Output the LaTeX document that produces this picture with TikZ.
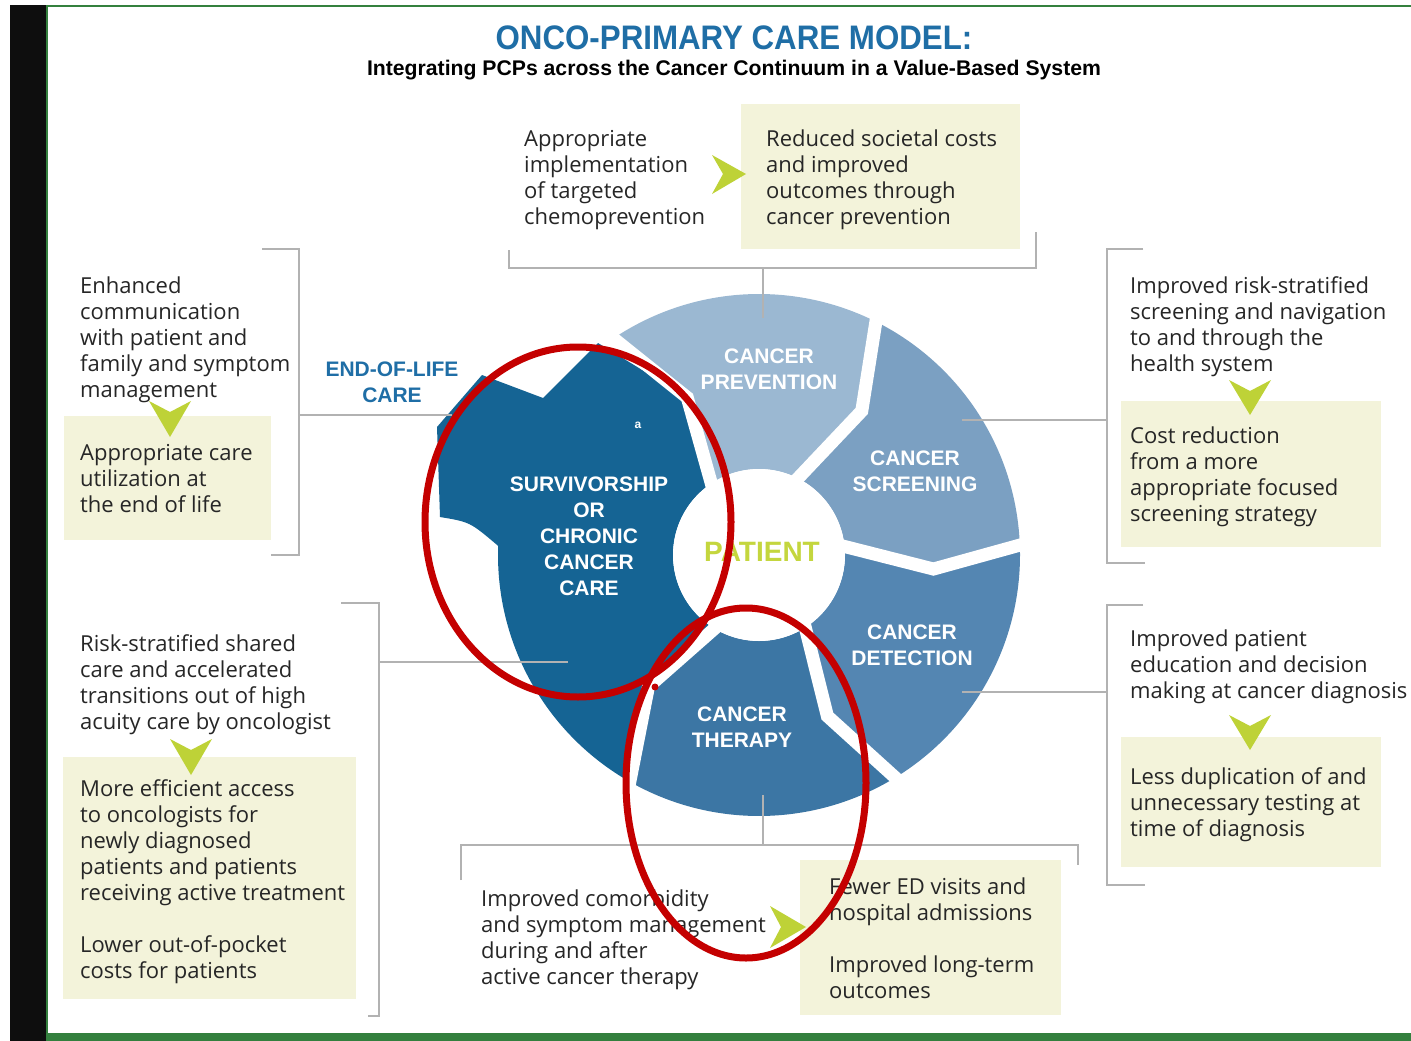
\documentclass[tikz,border=0pt]{standalone}
\usepackage{fontspec}
\usepackage{graphicx}
\setmainfont{Open Sans}
\newfontfamily\headfont{Liberation Sans}
\usetikzlibrary{calc}

\definecolor{titleblue}{RGB}{31,110,166}
\definecolor{segA}{RGB}{155,184,210}
\definecolor{segB}{RGB}{123,160,194}
\definecolor{segC}{RGB}{84,134,178}
\definecolor{segD}{RGB}{60,118,164}
\definecolor{segE}{RGB}{21,100,148}
\definecolor{patientgreen}{RGB}{196,214,62}
\definecolor{arrowgreen}{RGB}{190,210,55}
\definecolor{boxfill}{RGB}{243,243,218}
\definecolor{rulegray}{RGB}{178,178,178}
\definecolor{textdark}{RGB}{38,38,38}
\definecolor{markred}{RGB}{196,0,0}
\definecolor{framegreen}{RGB}{52,128,62}
\definecolor{sidebar}{RGB}{14,14,14}

\begin{document}
\begin{tikzpicture}[x=1pt,y=-1pt,
  % multi-line text blocks are placed by the baseline of their last line
  body/.style={font=\fontsize{22}{26}\selectfont, text=textdark, align=left, anchor=base west, inner sep=0pt},
  seglabel/.style={font=\headfont\bfseries\fontsize{21}{26}\selectfont, text=white, align=center, inner sep=0pt},
  softbox/.style={fill=boxfill, draw=none, anchor=north west, inner sep=0pt},
  bracket/.style={draw=rulegray, line width=1.5pt},
  chevron/.style={fill=arrowgreen, draw=none},
  gapline/.style={draw=white, line width=13pt},
  redmark/.style={draw=markred, line width=7pt}
]
\useasboundingbox (0,0) rectangle (1411,1041);
\fill[white] (0,0) rectangle (1411,1041);

% page frame: dark side bar and green rules
\fill[sidebar] (10,5) rectangle (46,1041);
\draw[framegreen, line width=2pt] (47,5) -- (47,1041);
\draw[framegreen, line width=2pt] (46,6) -- (1411,6);
\fill[framegreen] (46,1033) rectangle (1411,1041);

% headings
\node[font=\headfont\bfseries\fontsize{34}{40}\selectfont, text=titleblue, anchor=base, inner sep=0pt]
  (title) at (734,50) {\scalebox{0.92}[1]{ONCO-PRIMARY CARE MODEL:}};
\node[font=\headfont\bfseries\fontsize{21.2}{26}\selectfont, text=black, anchor=base, inner sep=0pt]
  (subtitle) at (734,76) {Integrating PCPs across the Cancer Continuum in a Value-Based System};

% ---------------- wheel ----------------
\begin{scope}[shift={(759,555)}]
  % cancer prevention
  \fill[segA] (-125:261) arc[start angle=-125, end angle=-64.5, radius=261]
     -- (-54.5:177) -- (-67:86) arc[start angle=-67, end angle=-128, radius=86]
     -- (-114.5:173) -- cycle;
  % cancer screening
  \fill[segB] (-64.5:261) arc[start angle=-64.5, end angle=-3, radius=261]
     -- (4.6:175) -- (-10.5:86) arc[start angle=-10.5, end angle=-67, radius=86]
     -- (-54.5:177) -- cycle;
  % cancer detection
  \fill[segC] (-3:261) arc[start angle=-3, end angle=57.5, radius=261]
     -- (67:175) -- (53:86) arc[start angle=53, end angle=-10.5, radius=86]
     -- (4.6:175) -- cycle;
  % cancer therapy
  \fill[segD] (57.5:261) arc[start angle=57.5, end angle=118.5, radius=261]
     -- (130:172) -- (117:86) arc[start angle=117, end angle=53, radius=86]
     -- (67:175) -- cycle;
  % survivorship, with the end-of-life lobe on its upper left
  \fill[segE] (118.5:261) arc[start angle=118.5, end angle=182, radius=261]
     .. controls (-289,-33) .. (-319,-38)
     -- (-322,-128) -- (-277,-180) -- (-216,-157) -- (-161,-212)
     -- (245.5:173) -- (232:86) arc[start angle=232, end angle=117, radius=86]
     -- (130:172) -- cycle;
  % white gaps between the segments
  \draw[gapline] (235:278) -- (245.5:173) -- (232:70);
  \draw[gapline] (-64.5:278) -- (-54.5:177) -- (-67:70);
  \draw[gapline] (-3:278) -- (4.6:175) -- (-10.5:70);
  \draw[gapline] (57.5:278) -- (67:175) -- (53:70);
  \draw[gapline] (118.5:278) -- (130:172) -- (117:70);
  \fill[white] (0,0) circle[radius=86];
\end{scope}

% segment labels
\node[seglabel] (prev) at (769,369) {CANCER\\PREVENTION};
\node[seglabel] (scr)  at (915,471) {CANCER\\SCREENING};
\node[seglabel] (det)  at (912,645) {CANCER\\DETECTION};
\node[seglabel] (ther) at (742,727) {CANCER\\THERAPY};
\node[seglabel] (surv) at (589,536) {SURVIVORSHIP\\OR\\CHRONIC\\CANCER\\CARE};
\node[font=\headfont\bfseries\fontsize{12}{14}\selectfont, text=white, inner sep=0pt] (amark) at (638,425) {a};
\node[font=\headfont\bfseries\fontsize{28}{32}\selectfont, text=patientgreen, inner sep=0pt] (patient) at (762,552) {PATIENT};
\node[font=\headfont\bfseries\fontsize{21}{26}\selectfont, text=titleblue, align=center, inner sep=0pt] (eol) at (392,382) {END-OF-LIFE\\CARE};

% ---------------- top panel ----------------
\node[body] (tq) at (524,224) {Appropriate\\implementation\\of targeted\\chemoprevention};
\node[softbox, minimum width=279pt, minimum height=145pt] (topbox) at (741,104) {};
\node[body] (ta) at (766,224) {Reduced societal costs\\and improved\\outcomes through\\cancer prevention};
\fill[chevron] (712,155) -- (746,174) -- (712,194) -- (723,174) -- cycle;

% ---------------- left upper panel ----------------
\node[body] (lq) at (80,397) {Enhanced\\communication\\with patient and\\family and symptom\\management};
\node[softbox, minimum width=207pt, minimum height=124pt] (lbox) at (64,416) {};
\node[body] (la) at (80,512) {Appropriate care\\utilization at\\the end of life};
\fill[chevron] (149,401) -- (170,437) -- (191,401) -- (170,412) -- cycle;

% ---------------- left lower panel ----------------
\node[body] (sq) at (80,729) {Risk-stratified shared\\care and accelerated\\transitions out of high\\acuity care by oncologist};
\node[softbox, minimum width=293pt, minimum height=242pt] (sbox) at (63,757) {};
\node[body] (sa) at (80,978) {More efficient access\\to oncologists for\\newly diagnosed\\patients and patients\\receiving active treatment\\[26pt]Lower out-of-pocket\\costs for patients};
\fill[chevron] (170,739) -- (191,775) -- (212,739) -- (191,750) -- cycle;

% ---------------- right upper panel ----------------
\node[body] (rq) at (1130,371) {Improved risk-stratified\\screening and navigation\\to and through the\\health system};
\node[softbox, minimum width=260pt, minimum height=146pt] (rbox) at (1121,401) {};
\node[body] (ra) at (1130,521) {Cost reduction\\from a more\\appropriate focused\\screening strategy};
\fill[chevron] (1229,380) -- (1250,415) -- (1271,380) -- (1250,391) -- cycle;

% ---------------- right lower panel ----------------
\node[body] (dq) at (1130,698) {Improved patient\\education and decision\\making at cancer diagnosis};
\node[softbox, minimum width=260pt, minimum height=130pt] (dbox) at (1121,737) {};
\node[body] (da) at (1130,836) {Less duplication of and\\unnecessary testing at\\time of diagnosis};
\fill[chevron] (1229,715) -- (1250,750) -- (1271,715) -- (1250,726) -- cycle;

% ---------------- bottom panel ----------------
\node[body] (bq) at (481,984) {Improved comorbidity\\and symptom management\\during and after\\active cancer therapy};
\node[softbox, minimum width=261pt, minimum height=155pt] (bbox) at (800,860) {};
\node[body] (ba) at (829,998) {Fewer ED visits and\\hospital admissions\\[26pt]Improved long-term\\outcomes};
\fill[chevron] (770,906) -- (806,927) -- (770,948) -- (781,927) -- cycle;

% ---------------- brackets and leader lines ----------------
\coordinate (tL) at (509,268); \coordinate (tR) at (1036,268); \coordinate (tM) at (763,268);
\draw[bracket] (509,250) -- (tL) -- (tR) -- (1036,232);
\draw[bracket] (tM) -- (763,318);

\coordinate (lT) at (299,249); \coordinate (lB) at (299,555);
\draw[bracket] (262,249) -- (lT) -- (lB) -- (271,555);
\draw[bracket] (299,415) -- (452,415);

\coordinate (sT) at (379,603); \coordinate (sB) at (379,1016);
\draw[bracket] (341,603) -- (sT) -- (sB) -- (368,1016);
\draw[bracket] (379,662) -- (568,662);

\coordinate (rT) at (1107,249); \coordinate (rB) at (1107,563);
\draw[bracket] (1143,249) -- (rT) -- (rB) -- (1145,563);
\draw[bracket] (962,420) -- (1107,420);

\coordinate (dT) at (1107,605); \coordinate (dB) at (1107,885);
\draw[bracket] (1143,605) -- (dT) -- (dB) -- (1145,885);
\draw[bracket] (962,692) -- (1107,692);

\coordinate (bL) at (461,845); \coordinate (bR) at (1078,845);
\draw[bracket] (461,880) -- (bL) -- (bR) -- (1078,865);
\draw[bracket] (763,795) -- (763,845);

% ---------------- hand-drawn red marks ----------------
\draw[redmark] (578,522) ellipse[x radius=153, y radius=175];
\draw[redmark] (746,783) ellipse[x radius=120, y radius=175];
\fill[markred] (655,687) circle[radius=3.5];
\end{tikzpicture}
\end{document}
